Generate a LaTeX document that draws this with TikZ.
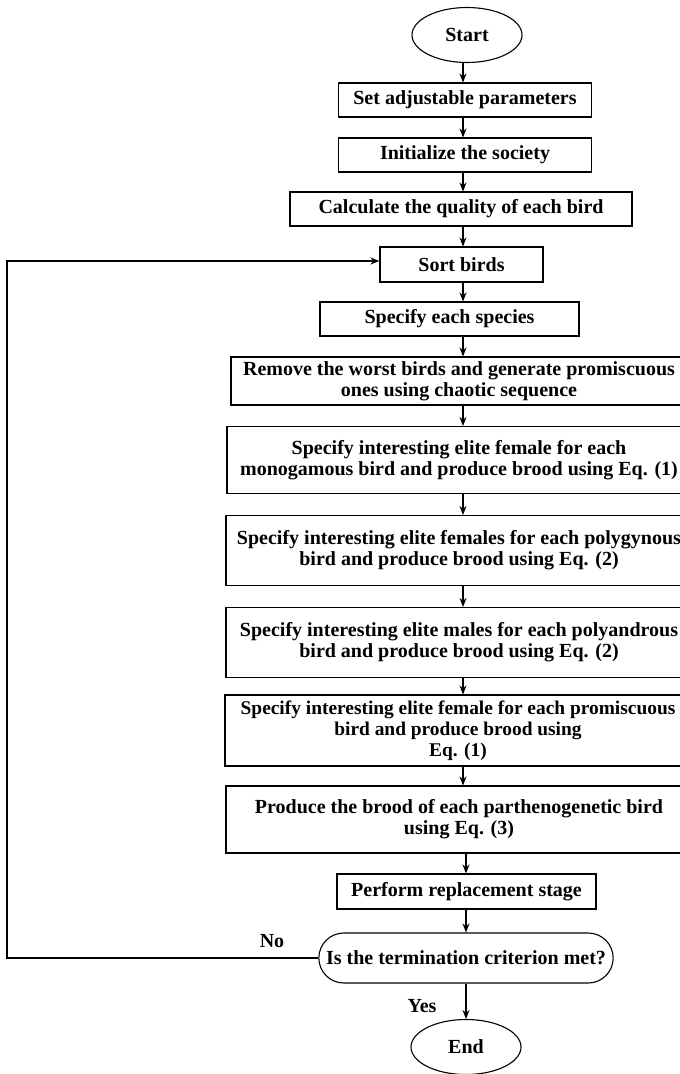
\documentclass[tikz,border=0pt]{standalone}
\usepackage{fontspec}
\setmainfont{Liberation Serif}
\usetikzlibrary{arrows.meta}
\usetikzlibrary{positioning}
\usetikzlibrary{shapes.geometric}
\usetikzlibrary{shapes.misc}

\begin{document}
\begin{tikzpicture}[
            > = {Stealth[length=9pt, width=7pt]}, % arrow head style
            x = 1pt, y = -1pt, % one unit is one pixel, y goes down
            line width = 1.1pt,
            font = \fontsize{20}{21}\selectfont\bfseries
        ]

        \tikzstyle{process}=[
            draw,
            rectangle,
            align = center,
            inner sep = 0pt
        ]
        \tikzstyle{terminal}=[
            draw,
            ellipse,
            minimum width = 110pt,
            minimum height = 55pt
        ]
        \tikzstyle{test}=[
            draw,
            rounded rectangle,
            minimum width = 301pt,
            minimum height = 50pt
        ]

        \useasboundingbox (0,0) rectangle (680,1074);

        % main column
        \node[terminal] (start) at (467,35) {Start};
        \node[process, minimum width=253pt, minimum height=34pt] (params) at (465,100) {Set adjustable parameters};
        \node[process, minimum width=253pt, minimum height=34pt] (init) at (465,155) {Initialize the society};
        \node[process, minimum width=342pt, minimum height=34pt] (quality) at (461,209) {Calculate the quality of each bird};
        \node[process, minimum width=163pt, minimum height=35pt] (sort) at (461.5,264.5) {Sort birds};
        \node[process, minimum width=259pt, minimum height=34pt] (species) at (449.5,319) {Specify each species};
        \node[process, minimum width=456pt, minimum height=48pt] (remove) at (459,381) {Remove the worst birds and generate promiscuous\\ ones using chaotic sequence};
        \node[process, minimum width=464pt, minimum height=67pt] (mono) at (459,460) {Specify interesting elite female for each\\ monogamous bird and produce brood using Eq. (1)};
        \node[process, minimum width=466pt, minimum height=70pt] (polyg) at (459,550.5) {Specify interesting elite females for each polygynous\\ bird and produce brood using Eq. (2)};
        \node[process, minimum width=466pt, minimum height=70pt] (polya) at (459,642.5) {Specify interesting elite males for each polyandrous\\ bird and produce brood using Eq. (2)};
        \node[process, minimum width=466pt, minimum height=71pt, font=\fontsize{19.4}{21}\selectfont\bfseries] (promis) at (458,730.5) {Specify interesting elite female for each promiscuous\\ bird and produce brood using\\ Eq. (1)};
        \node[process, minimum width=466pt, minimum height=67pt] (parth) at (459,819.5) {Produce the brood of each parthenogenetic bird\\ using Eq. (3)};
        \node[process, minimum width=259pt, minimum height=35pt] (replace) at (466.5,891.5) {Perform replacement stage};
        \node[test] (stop) at (466,958) {Is the termination criterion met?};
        \node[terminal] (end) at (466,1047) {End};

        % labels
        \node (no) at (272,941) {No};
        \node (yes) at (422,1006) {Yes};

        % arrows
        \coordinate (axis) at (463,0);
        \coordinate (loop) at (7,0);
        \draw[->] (start.south -| axis) -- (params.north -| axis);
        \draw[->] (params.south -| axis) -- (init.north -| axis);
        \draw[->] (init.south -| axis) -- (quality.north -| axis);
        \draw[->] (quality.south -| axis) -- (sort.north -| axis);
        \draw[->] (sort.south -| axis) -- (species.north -| axis);
        \draw[->] (species.south -| axis) -- (remove.north -| axis);
        \draw[->] (remove.south -| axis) -- (mono.north -| axis);
        \draw[->] (mono.south -| axis) -- (polyg.north -| axis);
        \draw[->] (polyg.south -| axis) -- (polya.north -| axis);
        \draw[->] (polya.south -| axis) -- (promis.north -| axis);
        \draw[->] (promis.south -| axis) -- (parth.north -| axis);
        \draw[->] (parth.south -| stop) -- (replace.north -| stop);
        \draw[->] (replace.south -| stop) -- (stop.north);
        \draw[->] (stop.south) -- (end.north);

        % back to sorting
        \draw[->] (stop.west) -- (stop.west -| loop) |- ([yshift=3.5pt]sort.west);

\end{tikzpicture}
\end{document}
